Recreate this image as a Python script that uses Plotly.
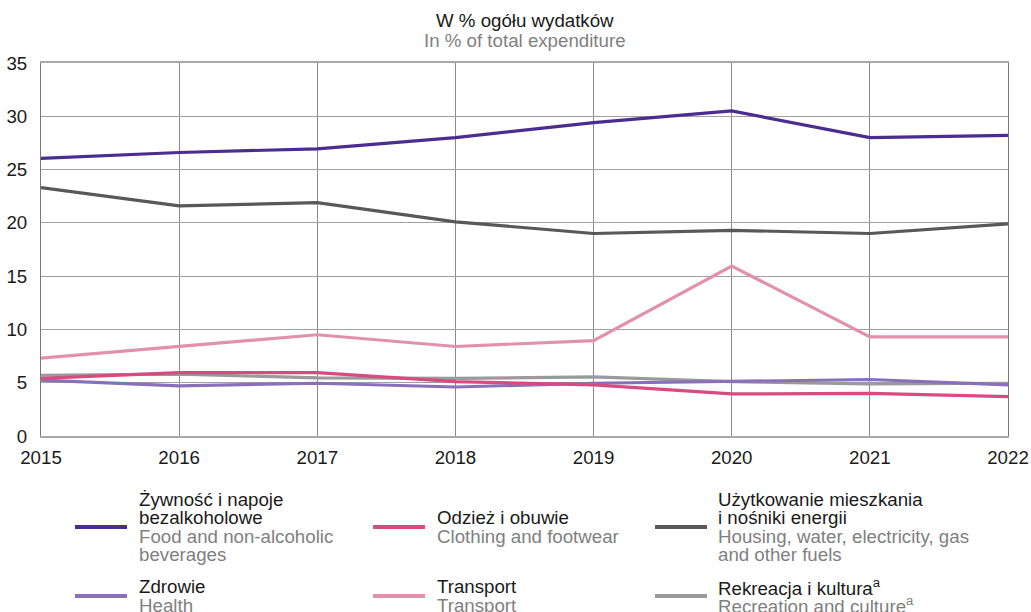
import plotly.graph_objects as go

years = [2015, 2016, 2017, 2018, 2019, 2020, 2021, 2022]
food = [26.05, 26.6, 26.95, 28.0, 29.4, 30.5, 28.0, 28.2]
clothing = [5.4, 5.95, 5.95, 5.1, 4.8, 3.95, 4.0, 3.7]
housing = [23.3, 21.6, 21.9, 20.1, 19.0, 19.3, 19.0, 19.9]
health = [5.25, 4.7, 4.95, 4.6, 4.95, 5.1, 5.3, 4.8]
transport = [7.3, 8.4, 9.5, 8.4, 8.95, 15.95, 9.3, 9.3]
recreation = [5.7, 5.8, 5.45, 5.4, 5.55, 5.1, 4.9, 4.95]

y_ticks = [0, 5, 10, 15, 20, 25, 30, 35]

series = [
    # (values, colour, polish lines, english lines, column, row)
    (food, "#4B2C91", ["Żywność i napoje", "bezalkoholowe"], ["Food and non-alcoholic", "beverages"], 0, 0),
    (clothing, "#D64C80", ["Odzież i obuwie"], ["Clothing and footwear"], 1, 0),
    (housing, "#585858", ["Użytkowanie mieszkania", "i nośniki energii"], ["Housing, water, electricity, gas", "and other fuels"], 2, 0),
    (health, "#8A70B8", ["Zdrowie"], ["Health"], 0, 1),
    (transport, "#E291AC", ["Transport"], ["Transport"], 1, 1),
    (recreation, "#9A9A9A", ["Rekreacja i kultura<sup>a</sup>"], ["Recreation and culture<sup>a</sup>"], 2, 1),
]

draw_order = [5, 3, 1, 4, 2, 0]

W, H = 1031, 612
L, R, T, B = 41, 1008, 63, 436
FONT = "Liberation Sans, Arial, sans-serif"
FS = 18.7

fig = go.Figure()
for i in draw_order:
    vals, col, pl, en, c, r = series[i]
    fig.add_trace(go.Scatter(
        x=years, y=vals, mode="lines", name=pl[0] + " / " + en[0],
        line=dict(color=col, width=3.2), showlegend=False,
    ))

def px_x(p):
    return (p - L) / (R - L)

def px_y(p):
    return (B - p) / (B - T)

annotations = []
shapes = []

annotations.append(dict(text="W % ogółu wydatków", x=0.5, y=px_y(20.5), xref="paper", yref="paper",
                        showarrow=False, xanchor="center", yanchor="middle",
                        font=dict(family=FONT, size=FS, color="#1a1a1a")))
annotations.append(dict(text="In % of total expenditure", x=0.5, y=px_y(40.5), xref="paper", yref="paper",
                        showarrow=False, xanchor="center", yanchor="middle",
                        font=dict(family=FONT, size=FS, color="#808080")))

sym_x0 = [75, 373, 655]
sym_len = 52
text_x = [137, 435, 716]
row_sym_y = [527, 596]
line_gap = 18.6
for vals, col, pl, en, c, r in series:
    sy = row_sym_y[r]
    shapes.append(dict(type="line", xref="paper", yref="paper",
                       x0=px_x(sym_x0[c]), x1=px_x(sym_x0[c] + sym_len),
                       y0=px_y(sy), y1=px_y(sy), line=dict(color=col, width=4)))
    lines = [(t, "#1a1a1a") for t in pl] + [(t, "#808080") for t in en]
    n = len(lines)
    for k, (t, tc) in enumerate(lines):
        ly = sy + (k - (n - 1) / 2) * line_gap
        annotations.append(dict(text=t, x=px_x(text_x[c]), y=px_y(ly), xref="paper", yref="paper",
                                showarrow=False, xanchor="left", yanchor="middle",
                                font=dict(family=FONT, size=FS, color=tc)))

fig.update_layout(
    width=W, height=H,
    margin=dict(l=L, r=W - R, t=T, b=H - B, pad=0, autoexpand=False),
    paper_bgcolor="white", plot_bgcolor="white",
    font=dict(family=FONT, size=FS, color="#1a1a1a"),
    annotations=annotations, shapes=shapes,
    showlegend=False,
)
fig.update_xaxes(
    range=[2015, 2022], tickvals=years, ticktext=[str(y) for y in years],
    showgrid=True, gridcolor="#8a8a8a", gridwidth=1,
    showline=True, linecolor="#a8a8a8", linewidth=1.5, mirror=True,
    ticks="", zeroline=False, ticklabelstandoff=4, automargin=False,
    tickfont=dict(family=FONT, size=FS, color="#1a1a1a"),
)
fig.update_yaxes(
    range=[0, 35], tickvals=y_ticks,
    showgrid=True, gridcolor="#a0a0a0", gridwidth=1,
    showline=True, linecolor="#777777", linewidth=1, mirror=True,
    ticks="", zeroline=False, ticklabelstandoff=9, automargin=False,
    tickfont=dict(family=FONT, size=FS, color="#1a1a1a"),
)

fig.write_html(
    "out.html",
    config={"displayModeBar": False},
    post_script="document.body.style.margin='0';document.body.style.overflow='hidden';",
)
